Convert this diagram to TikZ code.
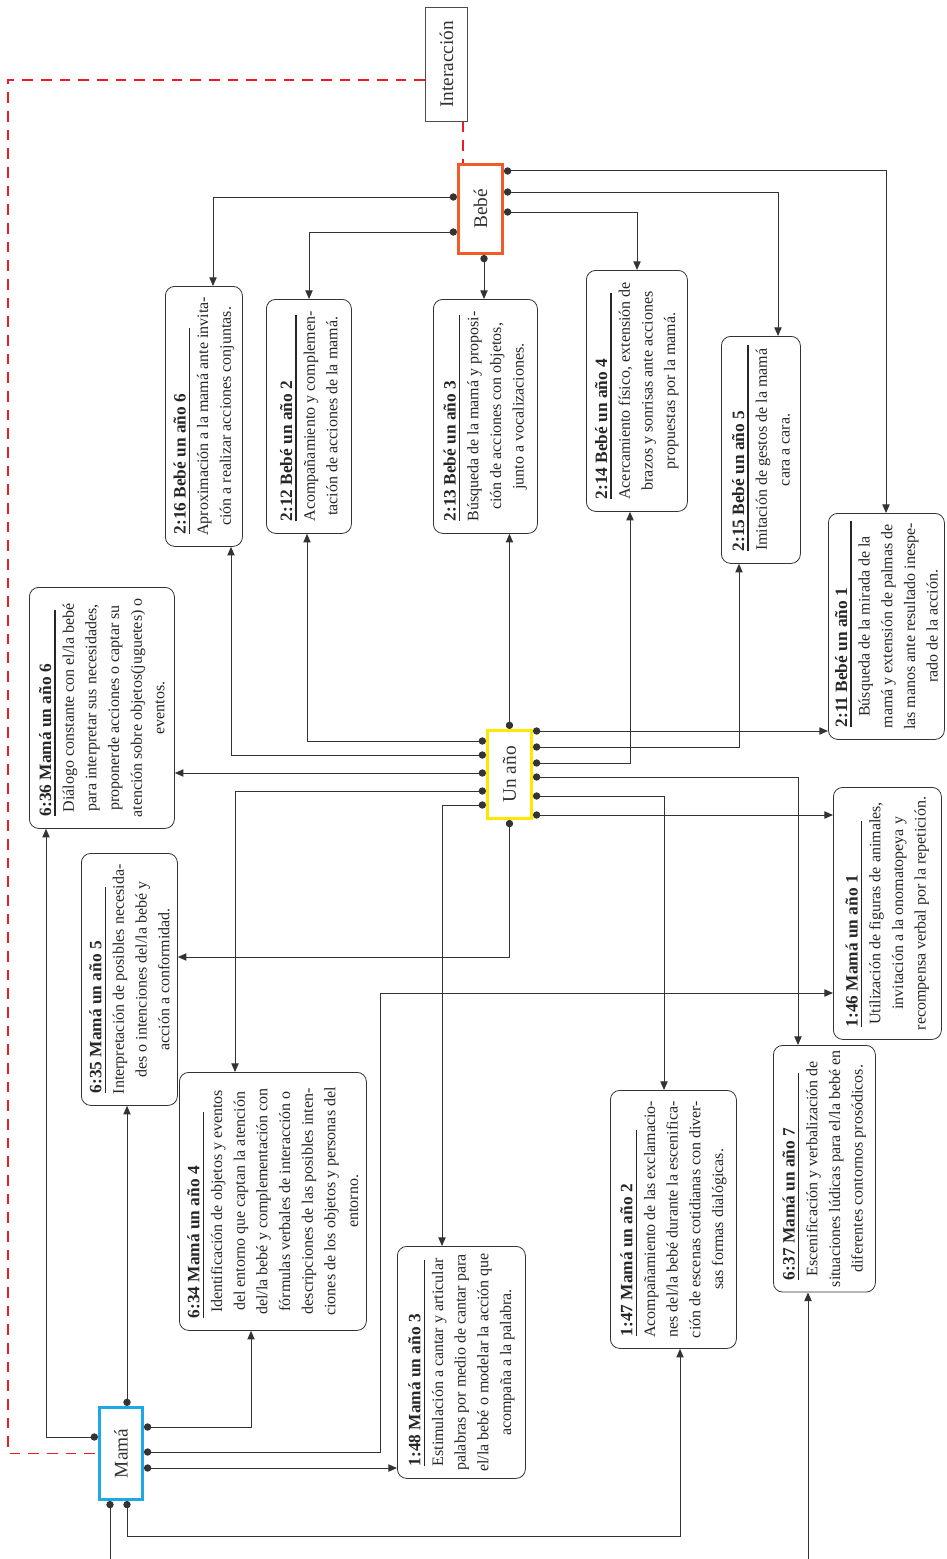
\documentclass[tikz,border=0pt]{standalone}
\usepackage{fontspec}
\setmainfont{Liberation Serif}
\usepackage{graphicx}
\usepackage{xcolor}
\usepackage{tikz}
\usetikzlibrary{arrows.meta, calc}

\definecolor{bebeorange}{HTML}{F15A29}
\definecolor{anoyellow}{HTML}{FFE800}
\definecolor{mamablue}{HTML}{1CA9E6}
\definecolor{linkgray}{HTML}{333333}
\definecolor{dashred}{HTML}{ED1C24}

% text of a card, turned a quarter
\newcommand{\cardtext}[3]{\rotatebox{90}{\parbox{\dimexpr#1-4pt\relax}{%
  \hspace*{7pt}\rlap{\rule[-3.5pt]{155pt}{1.1pt}}{\fontsize{13}{16}\selectfont\bfseries #2}\par
  {\centering\fontsize{12}{17}\selectfont #3\par}}}}
\newcommand{\actortext}[1]{\rotatebox{90}{\fontsize{14.5}{17}\selectfont #1}}

\tikzset{
  card/.style 2 args={draw=linkgray, line width=0.6pt, rounded corners=7pt, fill=white,
    inner sep=0pt, anchor=north west, minimum width=#1, minimum height=#2, text=black!85},
  actor/.style 2 args={line width=2.2pt, fill=white, inner sep=0pt, anchor=north west,
    minimum width=#1, minimum height=#2, text=black!80},
  link/.style={draw=linkgray, line width=0.75pt, {Circle[length=5.5pt]}-{Triangle[length=6.5pt,width=5.5pt]}},
  dotlink/.style={draw=linkgray, line width=0.75pt, {Circle[length=5.5pt]}-},
  tiplink/.style={draw=linkgray, line width=0.75pt, -{Triangle[length=6.5pt,width=5.5pt]}},
  redline/.style={draw=dashred, color=dashred, line width=0.9pt, dash pattern=on 8pt off 6pt}
}

\begin{document}
\begin{tikzpicture}[x=0.75pt, y=-0.75pt]
\useasboundingbox (0,0) rectangle (946,1559);

% actors
\node[actor={31.5pt}{85.5pt}, draw=black!70, line width=0.6pt] (inter) at (425,7) {\actortext{Interacción}};
\node[actor={33pt}{66.75pt}, draw=bebeorange] (bebe) at (457,163) {\actortext{Bebé}};
\node[actor={33pt}{66pt}, draw=anoyellow] (unano) at (486,729) {\actortext{Un año}};
\node[actor={32.25pt}{69pt}, draw=mamablue] (mama) at (98,1406) {\actortext{Mamá}};

% cards of the baby
\node[card={57.75pt}{195pt}] (b216) at (165,286) {\cardtext{195pt}{2:16 Bebé un año 6}{Aproximación a la mamá ante invita-\\ción a realizar acciones conjuntas.}};
\node[card={63.75pt}{175.5pt}] (b212) at (266,299) {\cardtext{175.5pt}{2:12 Bebé un año 2}{Acompañamiento y complemen-\\tación de acciones de la mamá.}};
\node[card={78pt}{175.5pt}] (b213) at (433,299) {\cardtext{175.5pt}{2:13 Bebé un año 3}{Búsqueda de la mamá y proposi-\\ción de acciones con objetos,\\junto a vocalizaciones.}};
\node[card={75.75pt}{180.75pt}] (b214) at (586,270) {\cardtext{180.75pt}{2:14 Bebé un año 4}{Acercamiento físico, extensión de\\brazos y sonrisas ante acciones\\propuestas por la mamá.}};
\node[card={59.25pt}{170.25pt}] (b215) at (721,336) {\cardtext{170.25pt}{2:15 Bebé un año 5}{Imitación de gestos de la mamá\\cara a cara.}};
\node[card={87pt}{169.5pt}] (b211) at (828,513) {\cardtext{169.5pt}{2:11 Bebé un año 1}{Búsqueda de la mirada de la\\mamá y extensión de palmas de\\las manos ante resultado inespe-\\rado de la acción.}};

% cards of the mother
\node[card={108.75pt}{180.75pt}] (m636) at (29,587) {\cardtext{180.75pt}{6:36 Mamá un año 6}{Diálogo constante con el/la bebé\\para interpretar sus necesidades,\\proponerde acciones o captar su\\atención sobre objetos(juguetes) o\\eventos.}};
\node[card={72pt}{189pt}] (m635) at (81,853) {\cardtext{189pt}{6:35 Mamá un año 5}{Interpretación de posibles necesida-\\des o intenciones del/la bebé y\\acción a conformidad.}};
\node[card={140.25pt}{193.5pt}] (m634) at (179,1072) {\cardtext{193.5pt}{6:34 Mamá un año 4}{Identificación de objetos y eventos\\del entorno que captan la atención\\del/la bebé y complementación con\\fórmulas verbales de interacción o\\descripciones de las posibles inten-\\ciones de los objetos y personas del\\entorno.}};
\node[card={96pt}{174pt}] (m148) at (397,1246) {\cardtext{174pt}{1:48 Mamá un año 3}{Estimulación a cantar y articular\\palabras por medio de cantar para\\el/la bebé o modelar la acción que\\acompaña a la palabra.}};
\node[card={94.5pt}{193.5pt}] (m147) at (610,1090) {\cardtext{193.5pt}{1:47 Mamá un año 2}{Acompañamiento de las exclamacio-\\nes del/la bebé durante la escenifica-\\ción de escenas cotidianas con diver-\\sas formas dialógicas.}};
\node[card={81pt}{189pt}] (m146) at (833,787) {\cardtext{189pt}{1:46 Mamá un año 1}{Utilización de figuras de animales,\\invitación a la onomatopeya y\\recompensa verbal por la repetición.}};
\node[card={76.5pt}{185pt}] (m637) at (773,1045) {\cardtext{185pt}{6:37 Mamá un año 7}{Escenificación y verbalización de\\situaciones lúdicas para el/la bebé en\\diferentes contornos prosódicos.}};

\coordinate (offmama) at (110,1559);
\coordinate (offcard) at (808,1559);

% interaccion frame
\draw[redline] (inter.west |- 0,80) -| (8,0 |- mama.west) -- (mama.west);
\draw[redline] (463,0 |- inter.south) -- (463,0 |- bebe.north);

% from the baby
\draw[link] (bebe.west |- 0,197) -| (213,0 |- b216.north);
\draw[link] (bebe.west |- 0,232) -| (309,0 |- b212.north);
\draw[link] (484,0 |- bebe.south) -- (484,0 |- b213.north);
\draw[link] (bebe.east |- 0,171) -| (886,0 |- b211.north);
\draw[link] (bebe.east |- 0,192) -| (778,0 |- b215.north);
\draw[link] (bebe.east |- 0,212) -| (637,0 |- b214.north);

% from one year
\draw[link] (unano.north) -- (unano.north |- b213.south);
\draw[link] (unano.west |- 0,741) -| (307,0 |- b212.south);
\draw[link] (unano.west |- 0,755) -| (231,0 |- b216.south);
\draw[link] (unano.west |- 0,773) -- (m636.east |- 0,773);
\draw[link] (unano.west |- 0,791) -| (235,0 |- m634.north);
\draw[link] (unano.west |- 0,805) -| (442,0 |- m148.north);
\draw[link] (unano.south) |- (m635.east |- 0,957);
\draw[link] (unano.east |- 0,731) -- (b211.west |- 0,731);
\draw[link] (unano.east |- 0,747) -| (739,0 |- b215.south);
\draw[link] (unano.east |- 0,763) -| (630,0 |- b214.south);
\draw[link] (unano.east |- 0,777) -| (798,0 |- m637.north);
\draw[link] (unano.east |- 0,796) -| (664,0 |- m147.north);
\draw[link] (unano.east |- 0,815) -- (m146.west |- 0,815);

% from the mother
\draw[link] (127,0 |- mama.north) -- (127,0 |- m635.south);
\draw[link] (mama.west |- 0,1437) -| (46,0 |- m636.south);
\draw[link] (mama.east |- 0,1427) -| (251,0 |- m634.south);
\draw[link] (mama.east |- 0,1452) -| (380,993) -- (m146.west |- 0,993);
\draw[link] (mama.east |- 0,1468) -- (m148.west |- 0,1468);
\draw[link] (127,0 |- mama.south) -- (127,1536) -| (680,0 |- m147.south);
\draw[dotlink] (offmama |- mama.south) -- (offmama);
\draw[tiplink] (offcard) -- (offcard |- m637.south);
\end{tikzpicture}
\end{document}
